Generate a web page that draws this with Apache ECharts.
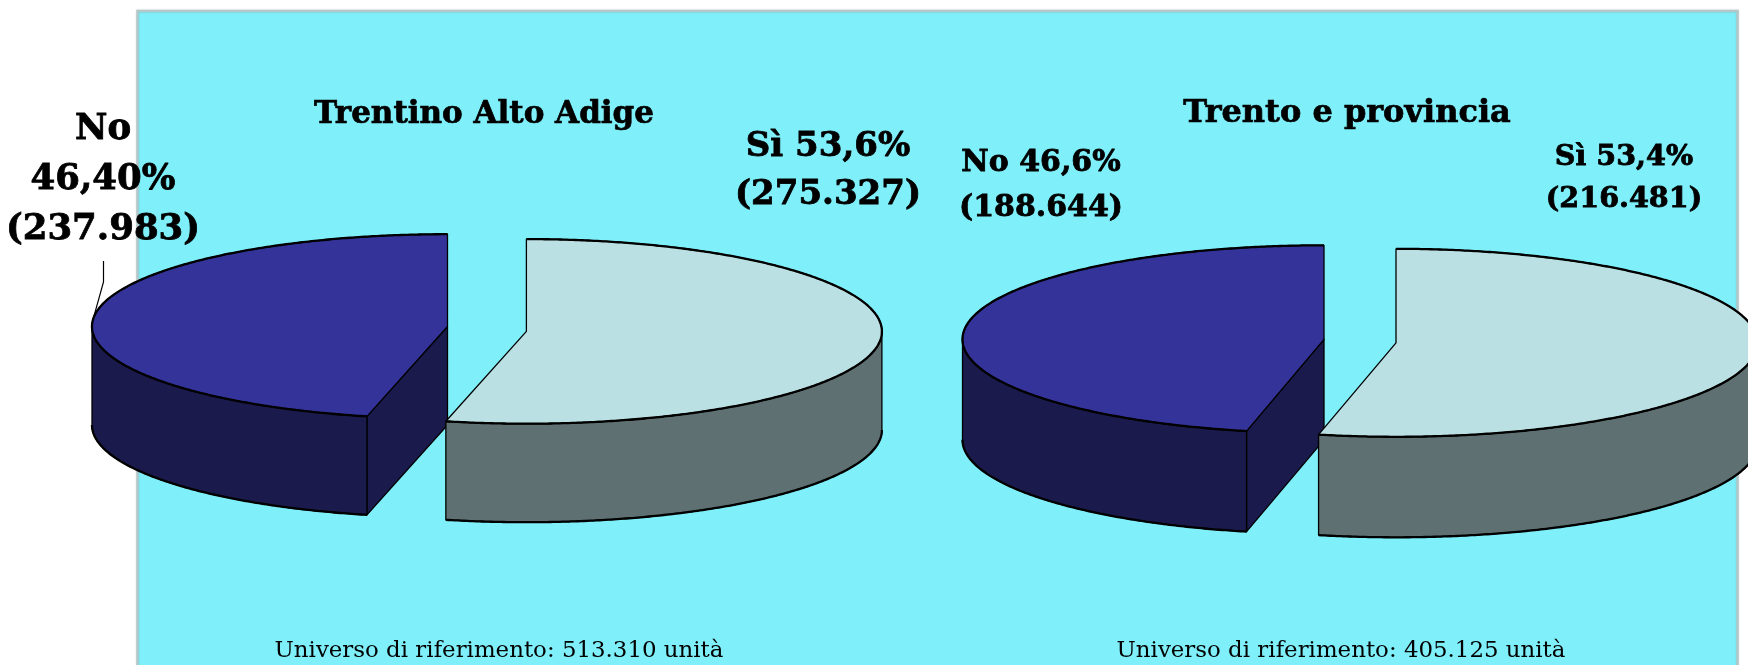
<!DOCTYPE html>
<html><head><meta charset="utf-8">
<style>html,body{margin:0;padding:0;background:#fff}#c{width:1748px;height:665px}</style>
<script src="https://cdn.jsdelivr.net/npm/echarts@6/dist/echarts.min.js"></script>
</head><body><div id="c"></div>
<script>
// ---- data ----
const categories = ['No', 'Sì'];
const pieTitles = ['Trentino Alto Adige', 'Trento e provincia'];
const trentinoValues = [237983, 275327];
const trentoValues = [188644, 216481];
const trentinoLabels = ['No\n46,40%\n(237.983)', 'Sì 53,6%\n(275.327)'];
const trentoLabels = ['No 46,6%\n(188.644)', 'Sì 53,4%\n(216.481)'];
const universeNotes = ['Universo di riferimento: 513.310 unità', 'Universo di riferimento: 405.125 unità'];

// ---- layout and style ----
const SERIF = '"DejaVu Serif", serif';
const topColors = ['#333399', '#BBE0E3'];
const wallColors = ['#1A1A4D', '#5E7072'];
const leftPie = {
  rx: 355.5, ry: 92.3, depth: 98.5,
  centers: [[447.5, 326.5], [526.4, 331.4]],
  label: [{x: 103, y: 105, size: 35.5, lh: 50}, {x: 828, y: 123, size: 34, lh: 48}],
  leader: [[103.5, 261], [103.5, 282]], leaderAngle: 275
};
const rightPie = {
  rx: 361.5, ry: 94, depth: 100.5,
  centers: [[1324, 339.3], [1396, 342.8]],
  label: [{x: 1041, y: 141, size: 30, lh: 44.5}, {x: 1624, y: 137, size: 28.6, lh: 42}],
  leader: null
};

function rim(c, p, deg, dy) {
  const a = deg * Math.PI / 180;
  return [c[0] + p.rx * Math.sin(a), c[1] - p.ry * Math.cos(a) + (dy || 0)];
}
function arc(c, p, from, to, dy) {
  const pts = [], n = Math.max(2, Math.ceil((to - from) * 2));
  for (let i = 0; i <= n; i++) pts.push(rim(c, p, from + (to - from) * i / n, dy));
  return pts;
}
function poly(points, fill, z2) {
  return {type: 'polygon', z2, shape: {points},
    style: {fill, stroke: '#000', lineWidth: 1.3, lineJoin: 'round'}};
}
function rimLine(points, z2) {
  return {type: 'polyline', z2, shape: {points},
    style: {fill: null, stroke: '#000', lineWidth: 2.3, lineJoin: 'round', lineCap: 'butt'}};
}
function makeRenderer(values, labels, p) {
  const total = values.reduce((a, b) => a + b, 0);
  // clockwise from 12 o'clock, last category first (Sì, then No)
  const spans = [];
  let acc = 0;
  for (let i = values.length - 1; i >= 0; i--) {
    spans[i] = [acc / total * 360, (acc + values[i]) / total * 360];
    acc += values[i];
  }
  return function (params, api) {
    const i = params.dataIndex;
    const v = api.value(0);
    const start = spans[i][0], end = start + v / total * 360;
    const c = p.centers[i], kids = [];
    const face = deg => {
      const a = rim(c, p, deg), b = [c[0], c[1]], d = [c[0], c[1] + p.depth], e = rim(c, p, deg, p.depth);
      return poly([a, b, d, e], wallColors[i], 1);
    };
    if (Math.sin(start * Math.PI / 180) < -1e-6) kids.push(face(start));
    if (Math.sin(end * Math.PI / 180) > 1e-6) kids.push(face(end));
    const wFrom = Math.max(start, 90), wTo = Math.min(end, 270);
    if (wTo > wFrom) {
      kids.push(poly(arc(c, p, wFrom, wTo).concat(arc(c, p, wFrom, wTo, p.depth).reverse()), wallColors[i], 2));
      kids.push(rimLine(arc(c, p, wFrom, wTo, p.depth), 2));
    }
    kids.push(poly([c].concat(arc(c, p, start, end)), topColors[i], 3));
    kids.push(rimLine(arc(c, p, start, end), 3));
    if (p.leader && i === 0) {
      kids.push({type: 'polyline', z2: 4,
        shape: {points: p.leader.concat([rim(c, p, p.leaderAngle)])},
        style: {fill: null, stroke: '#000', lineWidth: 1.2}});
    }
    const l = p.label[i];
    kids.push({type: 'text', z2: 5, style: {
      text: labels[i], x: l.x, y: l.y, fill: '#000', align: 'center', verticalAlign: 'top',
      font: 'bold ' + l.size + 'px ' + SERIF, lineHeight: l.lh,
      stroke: '#000', lineWidth: 0.8
    }});
    return {type: 'group', children: kids};
  };
}
function pieSeries(name, values, labels, p) {
  return {
    type: 'custom', name, coordinateSystem: 'none', z: 5, silent: true, animation: false,
    clip: false, renderItem: makeRenderer(values, labels, p),
    data: values.map((v, i) => ({name: categories[i], value: [v]}))
  };
}
function titleStyle(size) {
  return {fontFamily: SERIF, fontWeight: 'bold', fontSize: size, color: '#000',
    textBorderColor: '#000', textBorderWidth: 0.7};
}
function noteStyle() {
  return {fontFamily: SERIF, fontWeight: 'normal', fontSize: 22.9, color: '#000'};
}

const chart = echarts.init(document.getElementById('c'), null, {renderer: 'canvas'});
chart.setOption({
  animation: false,
  backgroundColor: '#ffffff',
  title: [
    {text: pieTitles[0], left: 484, top: 99, padding: 0, textAlign: 'center', z: 8, textStyle: titleStyle(31)},
    {text: pieTitles[1], left: 1347, top: 98, padding: 0, textAlign: 'center', z: 8, textStyle: titleStyle(32)},
    {text: universeNotes[0], left: 499, top: 640, padding: 0, textAlign: 'center', z: 8, textStyle: noteStyle()},
    {text: universeNotes[1], left: 1341, top: 640, padding: 0, textAlign: 'center', z: 8, textStyle: noteStyle()}
  ],
  graphic: [{
    type: 'rect', z: -10, silent: true,
    shape: {x: 137.5, y: 11, width: 1600, height: 720},
    style: {fill: '#7FEFFA', stroke: '#B4C8CA', lineWidth: 2.5,
      shadowBlur: 2, shadowColor: 'rgba(0,0,0,0.15)'}
  }],
  series: [
    pieSeries(pieTitles[0], trentinoValues, trentinoLabels, leftPie),
    pieSeries(pieTitles[1], trentoValues, trentoLabels, rightPie)
  ]
});
</script></body></html>
